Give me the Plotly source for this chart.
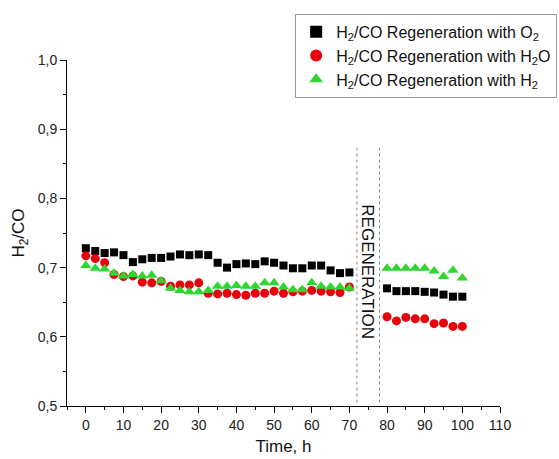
import plotly.graph_objects as go

# Data
t_before = [0, 2.5, 5, 7.5, 10, 12.5, 15, 17.5, 20, 22.5, 25, 27.5, 30, 32.5, 35, 37.5,
            40, 42.5, 45, 47.5, 50, 52.5, 55, 57.5, 60, 62.5, 65, 67.5, 70]
t_after = [80, 82.5, 85, 87.5, 90, 92.5, 95, 97.5, 100]

o2_before = [0.728, 0.724, 0.721, 0.722, 0.718, 0.708, 0.712, 0.714, 0.714, 0.716, 0.719,
             0.718, 0.719, 0.718, 0.707, 0.700, 0.705, 0.706, 0.705, 0.709, 0.707, 0.703,
             0.699, 0.699, 0.703, 0.703, 0.696, 0.692, 0.693]
o2_after = [0.670, 0.666, 0.666, 0.666, 0.665, 0.664, 0.661, 0.658, 0.658]

h2o_before = [0.717, 0.713, 0.707, 0.690, 0.687, 0.688, 0.679, 0.678, 0.680, 0.673, 0.675,
              0.675, 0.678, 0.663, 0.662, 0.663, 0.661, 0.660, 0.663, 0.663, 0.666, 0.663,
              0.665, 0.666, 0.667, 0.666, 0.665, 0.664, 0.672]
h2o_after = [0.629, 0.623, 0.628, 0.626, 0.626, 0.619, 0.620, 0.615, 0.615]

h2_before = [0.703, 0.699, 0.698, 0.692, 0.688, 0.690, 0.688, 0.689, 0.681, 0.670, 0.667,
             0.665, 0.665, 0.667, 0.673, 0.673, 0.674, 0.673, 0.673, 0.678, 0.678, 0.672,
             0.668, 0.668, 0.678, 0.673, 0.672, 0.672, 0.670]
h2_after = [0.699, 0.699, 0.699, 0.699, 0.699, 0.695, 0.687, 0.696, 0.685]

regen_lines = [72, 78]
x_ticks = list(range(0, 111, 10))
y_ticks = [0.5, 0.6, 0.7, 0.8, 0.9, 1.0]
y_tick_text = ["0,5", "0,6", "0,7", "0,8", "0,9", "1,0"]

fig = go.Figure()

def add_series(before, after, name, symbol, color, size):
    fig.add_trace(go.Scatter(
        x=t_before + [None] + t_after,
        y=before + [None] + after,
        mode="markers", name=name,
        marker=dict(symbol=symbol, color=color, size=size, line=dict(width=0)),
    ))

add_series(o2_before, o2_after, "H<sub>2</sub>/CO Regeneration with O<sub>2</sub>", "square", "#000000", 8)
add_series(h2o_before, h2o_after, "H<sub>2</sub>/CO Regeneration with H<sub>2</sub>O", "circle", "#e8000b", 9)
add_series(h2_before, h2_after, "H<sub>2</sub>/CO Regeneration with H<sub>2</sub>", "triangle-up", "#2fd62f", 10)

for xv in regen_lines:
    fig.add_shape(type="line", x0=xv, x1=xv, y0=0.505, y1=0.877, xref="x", yref="y",
                  line=dict(color="#888888", width=1, dash="dot"))

fig.add_annotation(x=74.8, y=0.694, text="REGENERATION", textangle=90, showarrow=False,
                   font=dict(family="Liberation Sans, Arial", size=17, color="#111111"))

fig.update_layout(
    width=559, height=459,
    margin=dict(l=67, r=59, t=60, b=53, autoexpand=False),
    paper_bgcolor="white", plot_bgcolor="white",
    font=dict(family="Liberation Sans, Arial", size=14, color="#222222"),
    showlegend=True,
    legend=dict(xref="container", yref="container", x=0.528, y=0.97, xanchor="left", yanchor="top",
                bordercolor="#999999", borderwidth=1, bgcolor="white",
                font=dict(size=16, color="#111111"),
                itemsizing="constant", tracegroupgap=0),
    xaxis=dict(range=[-5, 110], tickvals=x_ticks, ticks="outside", ticklen=6,
               showline=True, linecolor="#000000", linewidth=1, showgrid=False, zeroline=False,
               minor=dict(dtick=5, tick0=0, ticks="outside", ticklen=3, tickcolor="#000000"),
               tickcolor="#000000", automargin=False,
               title=dict(text="Time, h", font=dict(size=17, color="#111111"), standoff=8)),
    yaxis=dict(range=[0.5, 1.0], tickvals=y_ticks, ticktext=y_tick_text, ticks="outside", ticklen=6,
               showline=True, linecolor="#000000", linewidth=1, showgrid=False, zeroline=False,
               minor=dict(dtick=0.05, tick0=0.5, ticks="outside", ticklen=3, tickcolor="#000000"),
               tickcolor="#000000", automargin=False,
               title=dict(text="H<sub>2</sub>/CO", font=dict(size=17, color="#111111"), standoff=8)),
)

fig.write_html("out.html")
